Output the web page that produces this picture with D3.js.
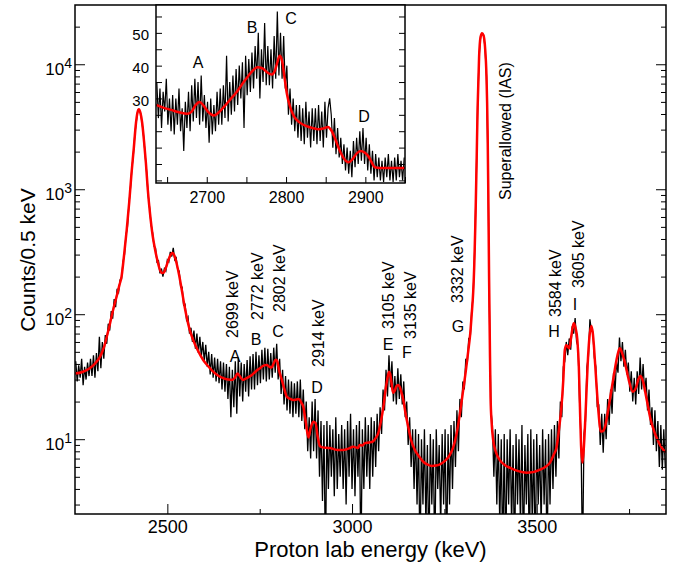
<!DOCTYPE html>
<html>
<head>
<meta charset="utf-8">
<script src="https://cdn.jsdelivr.net/npm/d3@7"></script>
<style>
  body { margin: 0; background: white; }
  svg { display: block; font-family: "Liberation Sans", Arial, Helvetica, sans-serif; }
</style>
</head>
<body>
<div id="container"></div>
<script>
let w = 685;
let h = 567;

// measured spectrum, one value every 4 keV starting at 2252 keV
let binStart = 2252;
let binStep = 4;
let counts = [
  42,29,39,31,44,27,38,30,41,32,
  44,32,47,31,49,35,66,37,60,44,
  68,58,84,74,106,92,132,114,160,150,
  188,192,262,300,430,500,760,1010,1460,1900,
  2760,3480,4260,4290,4010,3320,2620,1860,1370,900,
  710,520,450,350,338,262,268,212,232,200,
  232,222,272,262,315,290,340,272,282,228,
  222,165,165,118,120,90,95,70,78,60,
  74,53,70,49,66,46,60,42,57,38,
  50,33,48,31,45,29,44,28,42,25,
  41,24,40,21,38,15,36,18,42,16,
  45,22,41,20,40,24,43,22,46,25,
  48,25,50,27,47,28,52,30,54,29,
  53,30,49,31,54,34,58,30,44,23,
  36,19,32,17,30,16,29,15,28,16,
  29,15,30,14,25,12,20,8,15,7,
  20,8,21,7,17,5,14,3.2,13,0,
  14,4,13,5,12,3.5,15,4,11,5,
  13,4,12,3,14,5,16,4,12,3.5,
  13,5,14,0,12,4,15,5,13,4,
  15,5,14,6,16,8,18,11,25,17,
  36,22,47,26,42,20,32,19,37,21,
  33,19,29,15,20,9,15,6,12,4,
  12,3,11,0,10,3,12,2,9,0,
  11,3,10,0,12,4,9,2,11,3,
  12,0,11,3,13,4,14,6,17,8,
  21,15,29,25,44,40,64,64,108,140,
  320,1080,4550,11400,16600,17600,17100,13700,8100,1650,
  105,17,13,5,12,3,11,2,10,0,
  11,0,10,3,12,2,9,0,11,3,
  10,2,13,0,9,3,11,0,12,2,
  10,0,11,3,9,2,12,3,10,0,
  11,3,12,4,13,5,14,7,20,15,
  38,42,60,47,64,52,80,70,93,60,
  55,20,10,0,11,14,38,46,91,74,
  72,45,38,18,19,9,16,7.8,16,10,
  21,13,25,16,34,24,42,34,65,42,
  60,38,52,33,41,24,35,20,31,19,
  35,23,45,25,40,24,31,17,25,13,
  18,9,17,8,14,6,13,5.7,12,6
];

// fit curve
let fitEnergy = [
  2250,2270,2290,2305,2318,2328,2336,2343,2349,2356,2363,2370,2376,2383,2390,2397,2403,2409,2415,2419,
  2423,2427,2432,2437,2442,2447,2453,2460,2467,2474,2480,2486,2490,2496,2503,2509,2514,2519,2525,2532,
  2539,2545,2552,2560,2570,2583,2597,2610,2624,2637,2651,2665,2675,2683,2690,2696,2704,2712,2728,2740,
  2751,2762,2769,2776,2782,2788,2793,2797,2802,2810,2817,2823,2833,2841,2850,2857,2863,2868,2875,2882,
  2888,2895,2901,2907,2913,2920,2940,2960,2976,2990,3003,3010,3016,3021,3028,3035,3046,3057,3064,3071,
  3078,3085,3090,3095,3100,3103,3107,3111,3115,3120,3125,3130,3134,3139,3145,3152,3160,3170,3181,3193,
  3205,3216,3227,3238,3250,3265,3275,3283,3292,3301,3308,3315,3320,3324,3328,3331,3334,3337,3340,3344,
  3348,3352,3356,3360,3364,3367,3369,3371,3373,3375,3378,3382,3390,3400,3414,3428,3450,3473,3490,3509,
  3523,3536,3546,3554,3561,3567,3572,3576,3580,3583,3588,3594,3600,3605,3610,3614,3617,3620,3624,3628,
  3633,3638,3642,3648,3652,3655,3660,3664,3668,3673,3679,3685,3691,3698,3707,3716,3721,3725,3731,3739,
  3749,3760,3769,3775,3781,3787,3798,3808,3820,3832,3843,3850
];
let fitCounts = [
  33.5,34.5,37,40.5,45.8,54,66,80,96,117,140,170,200,300,472,800,1343,2100,3373,4100,
  4365,4100,3373,2400,1614,1000,643,430,327,262,226,214,215,235,272,300,311,295,256,205,
  157,123,96,76,62,51,43,38.5,34.7,32.3,30.8,30,29.8,31,33.5,32,29.8,30.5,32.5,35,
  37,39,39.3,38,37.4,40.5,43.2,42.5,36,29.8,25,22,21,20.6,20.8,20.9,19.5,18.2,13.5,10.3,
  12.3,13.8,13.5,10.5,8.8,8.6,8.5,8.2,8.2,8.4,8.7,8.6,8.5,9.0,8.9,9.3,9.4,9.6,10.2,11.2,
  13.8,18.2,24,29.8,34.7,33.5,28,23.5,24.2,26.5,27.2,25.8,23.5,20.5,16,12.6,9.8,8.2,7.3,6.6,
  6.25,6.1,6.15,6.3,6.65,7.5,8.8,11,16,24.8,35,51.8,70,100,150,250,550,1500,4500,11500,
  16500,17700,17000,13800,8000,3000,900,200,62,22,13.5,9.9,7.8,6.8,6.2,5.9,5.55,5.4,5.45,5.7,
  6.0,6.5,7.5,8.7,12.5,18.2,30,51.8,56.5,55.7,53.3,68,84.6,78,62.3,38,18.2,9,6.5,9,
  18.2,40,62,80.6,70,55,33,21.9,15.5,11.5,11.6,12.6,15.5,20.6,30,43.1,50,53.3,49,40.6,
  30,24,26,30,32,29.5,20.6,14.5,11.1,9.2,8.2,7.9
];

// inset: same region on a linear scale, one value every 2 keV from 2637 keV
let insetStart = 2637;
let insetStep = 2;
let insetCounts = [
  35,24,33,21,32,26,36,22,30,20,
  31,19,30,22,33,20,27,14,29,21,
  32,20,34,23,36,24,35,22,37,23,
  31,21,29,16.5,30,19,28,20,32,22,
  33,22,34,24,43,23,35,25,37,26,
  39,28,40,30,41,21,43,31,42,32,
  44,33,46,36,50,30,45,35,53,34,
  46,34,45,33,49,36,56.5,37,50,36,
  49,33,40,25,33,22,30,20,28,18,
  28,17,27,16,29,18,26,15,27,17,
  27,16,28,17,26,15,29,18,27,30,
  25,15,24,13,21,12,18,10,16,8,
  15,7,14,6,17,9,18,10,20,11,
  21,10,18,8,16,7,14,5,13,6,
  12,5,11,4.5,12,6,13,5,11,4.5,
  12,5,13,6,11,5,12
];
let insetFitEnergy = [
  2636,2645,2655,2665,2675,2681,2686,2691,2696,2702,2709,2715,2722,2730,2737,2745,2752,2758,2764,2770,
  2776,2782,2786,2789,2792,2795,2798,2801,2805,2810,2817,2825,2833,2841,2848,2853,2857,2862,2867,2872,
  2879,2884,2889,2894,2899,2904,2908,2912,2918,2930,2950
];
let insetFitCounts = [
  28,27.2,26.5,25.8,25.3,26,28,28.9,27.8,25.8,24.8,25.7,27.5,29.8,31.7,34.5,36.7,38.5,39.5,39.2,
  38,37.3,38.5,41,43,41.5,36.5,31.5,27.5,24.5,22.7,21.6,21,20.6,20.9,21.3,20.3,17.6,14.5,12,
  10.5,11.5,13.2,14,13.5,12.3,10.5,9.0,8.8,8.8,8.8
];

// axis ticks
let xMajorTicks = [2500, 3000, 3500];
let xMinorTicks = [2750, 3250, 3750];
let yDecades = [10, 100, 1000, 10000];
let insetXTicks = [2650, 2700, 2750, 2800, 2850, 2900, 2950];
let insetXLabels = [2700, 2800, 2900];
let insetYTicks = [5, 10, 15, 20, 25, 30, 35, 40, 45, 50, 55];
let insetYLabels = [30, 40, 50];

// peak annotations
let peakLetters = ["A", "B", "C", "D", "E", "F", "G", "H", "I"];
let peakEnergies = ["2699 keV", "2772 keV", "2802 keV", "2914 keV", "3105 keV", "3135 keV", "3332 keV", "3584 keV", "3605 keV"];
let insetLetters = ["A", "B", "C", "D"];

// SVG
let viz = d3.select("#container").append("svg")
    .attr("width", w)
    .attr("height", h)
    .style("background-color", "white")
;

let mLeft = 75, mRight = 666, mTop = 5, mBottom = 514;

let x = d3.scaleLinear().domain([2250, 3850]).range([mLeft, mRight]);
let y = d3.scaleLog().domain([2.52, 29800]).range([mBottom, mTop]);

viz.append("clipPath").attr("id", "mainClip")
  .append("rect")
    .attr("x", mLeft).attr("y", mTop)
    .attr("width", mRight - mLeft).attr("height", mBottom - mTop)
;

let dataLine = d3.line()
    .x(function(d, i) { return x(binStart + i * binStep); })
    .y(function(d) { return y(Math.max(d, 1)); })
;
let fitLine = d3.line()
    .x(function(d) { return x(d[0]); })
    .y(function(d) { return y(d[1]); })
    .curve(d3.curveMonotoneX)
;

let plot = viz.append("g").attr("clip-path", "url(#mainClip)");
plot.append("path")
    .datum(counts)
    .attr("d", dataLine)
    .attr("fill", "none")
    .attr("stroke", "black")
    .attr("stroke-width", 1.3)
;
plot.append("path")
    .datum(d3.zip(fitEnergy, fitCounts))
    .attr("d", fitLine)
    .attr("fill", "none")
    .attr("stroke", "red")
    .attr("stroke-width", 2.5)
    .attr("stroke-linejoin", "round")
;

// axes, ticks pointing inward
let logTicks = [];
yDecades.concat([1]).forEach(function(dec) {
  for (let m = 2; m <= 9; m++) {
    let v = dec * m;
    if (v > 2.52 && v < 29800) logTicks.push(v);
  }
});

function styleAxis(g) {
  g.select(".domain").remove();
  g.selectAll("line").attr("stroke", "black").attr("stroke-width", 1);
}

viz.append("g").attr("transform", "translate(0," + mBottom + ")")
    .call(d3.axisBottom(x).tickValues(xMajorTicks).tickSize(-10).tickPadding(6).tickFormat(d3.format("d")))
    .call(styleAxis)
    .call(function(g) {
      g.selectAll("text").attr("font-size", 18).attr("font-family", "Liberation Sans, Arial, sans-serif").attr("fill", "black");
    })
;
viz.append("g").attr("transform", "translate(0," + mBottom + ")")
    .call(d3.axisBottom(x).tickValues(xMinorTicks).tickSize(-5).tickFormat(""))
    .call(styleAxis)
;

[[d3.axisLeft, mLeft], [d3.axisRight, mRight]].forEach(function(a) {
  viz.append("g").attr("transform", "translate(" + a[1] + ",0)")
      .call(a[0](y).tickValues(yDecades).tickSize(-10).tickFormat(""))
      .call(styleAxis)
  ;
  viz.append("g").attr("transform", "translate(" + a[1] + ",0)")
      .call(a[0](y).tickValues(logTicks).tickSize(-5).tickFormat(""))
      .call(styleAxis)
  ;
});

let yLabels = viz.append("g").selectAll("text").data(yDecades).enter()
  .append("text")
    .attr("x", 72)
    .attr("y", function(d) { return y(d) + 11; })
    .attr("text-anchor", "end")
    .attr("fill", "black")
;
yLabels.append("tspan").attr("font-size", 17).text("10");
yLabels.append("tspan").attr("font-size", 14).attr("dy", -7)
    .text(function(d) { return Math.round(Math.log10(d)); });

viz.append("rect")
    .attr("x", mLeft).attr("y", mTop)
    .attr("width", mRight - mLeft).attr("height", mBottom - mTop)
    .attr("fill", "none")
    .attr("stroke", "black")
    .attr("stroke-width", 1.5)
;

viz.append("text")
    .text("Proton lab energy (keV)")
    .attr("x", (mLeft + mRight) / 2)
    .attr("y", 557)
    .attr("text-anchor", "middle")
    .attr("font-size", 22)
;
viz.append("text")
    .text("Counts/0.5 keV")
    .attr("transform", "translate(35,260) rotate(-90)")
    .attr("text-anchor", "middle")
    .attr("font-size", 21)
;

// peak labels
let labelSpots = [
  [238, 338, 235, 362], [263, 320, 256, 345], [285, 312, 278, 337],
  [324, 367, 317, 393], [394, 329, 388, 350], [416, 339, 407, 358],
  [463, 303, 458, 332], [561, 317, 554, 337], [584, 288, 575, 310]
];
peakEnergies.forEach(function(t, i) {
  let s = labelSpots[i];
  viz.append("text")
      .text(t)
      .attr("transform", "translate(" + s[0] + "," + s[1] + ") rotate(-90)")
      .attr("font-size", 16)
  ;
  viz.append("text")
      .text(peakLetters[i])
      .attr("x", s[2])
      .attr("y", s[3])
      .attr("text-anchor", "middle")
      .attr("font-size", 16)
  ;
});
viz.append("text")
    .text("Superallowed (IAS)")
    .attr("transform", "translate(511,200) rotate(-90)")
    .attr("font-size", 16)
;

// INSET
let iLeft = 156, iRight = 405, iTop = 5, iBottom = 183;
let xi = d3.scaleLinear().domain([2636, 2950]).range([iLeft, iRight]);
let yi = d3.scaleLinear().domain([4.2, 58.5]).range([iBottom, iTop]);

viz.append("rect")
    .attr("x", iLeft).attr("y", iTop)
    .attr("width", iRight - iLeft).attr("height", iBottom - iTop)
    .attr("fill", "white")
;
viz.append("clipPath").attr("id", "insetClip")
  .append("rect")
    .attr("x", iLeft).attr("y", iTop)
    .attr("width", iRight - iLeft).attr("height", iBottom - iTop)
;
let inset = viz.append("g").attr("clip-path", "url(#insetClip)");
inset.append("path")
    .datum(insetCounts)
    .attr("d", d3.line()
      .x(function(d, i) { return xi(insetStart + i * insetStep); })
      .y(function(d) { return yi(d); }))
    .attr("fill", "none")
    .attr("stroke", "black")
    .attr("stroke-width", 1.2)
;
inset.append("path")
    .datum(d3.zip(insetFitEnergy, insetFitCounts))
    .attr("d", d3.line()
      .x(function(d) { return xi(d[0]); })
      .y(function(d) { return yi(d[1]); })
      .curve(d3.curveMonotoneX))
    .attr("fill", "none")
    .attr("stroke", "red")
    .attr("stroke-width", 2.5)
;

viz.append("g").attr("transform", "translate(0," + iBottom + ")")
    .call(d3.axisBottom(xi).tickValues(insetXTicks).tickSize(-6).tickPadding(8.5)
      .tickFormat(function(d) { return insetXLabels.includes(d) ? d : ""; }))
    .call(styleAxis)
    .call(function(g) {
      g.selectAll("text").attr("font-size", 16).attr("font-family", "Liberation Sans, Arial, sans-serif").attr("fill", "black");
    })
;
viz.append("g").attr("transform", "translate(" + iLeft + ",0)")
    .call(d3.axisLeft(yi).tickValues(insetYTicks).tickSize(-6).tickPadding(7)
      .tickFormat(function(d) { return insetYLabels.includes(d) ? d : ""; }))
    .call(styleAxis)
    .call(function(g) {
      g.selectAll("text").attr("font-size", 15).attr("dy", "0.45em").attr("font-family", "Liberation Sans, Arial, sans-serif").attr("fill", "black");
    })
;
viz.append("g").attr("transform", "translate(" + iRight + ",0)")
    .call(d3.axisRight(yi).tickValues(insetYTicks).tickSize(-6).tickFormat(""))
    .call(styleAxis)
;
viz.append("rect")
    .attr("x", iLeft).attr("y", iTop)
    .attr("width", iRight - iLeft).attr("height", iBottom - iTop)
    .attr("fill", "none")
    .attr("stroke", "black")
    .attr("stroke-width", 1.5)
;

let insetSpots = [[198, 68], [252, 33], [291, 23.5], [364, 122]];
insetLetters.forEach(function(t, i) {
  viz.append("text")
      .text(t)
      .attr("x", insetSpots[i][0])
      .attr("y", insetSpots[i][1])
      .attr("text-anchor", "middle")
      .attr("font-size", 16)
  ;
});
</script>
</body>
</html>
